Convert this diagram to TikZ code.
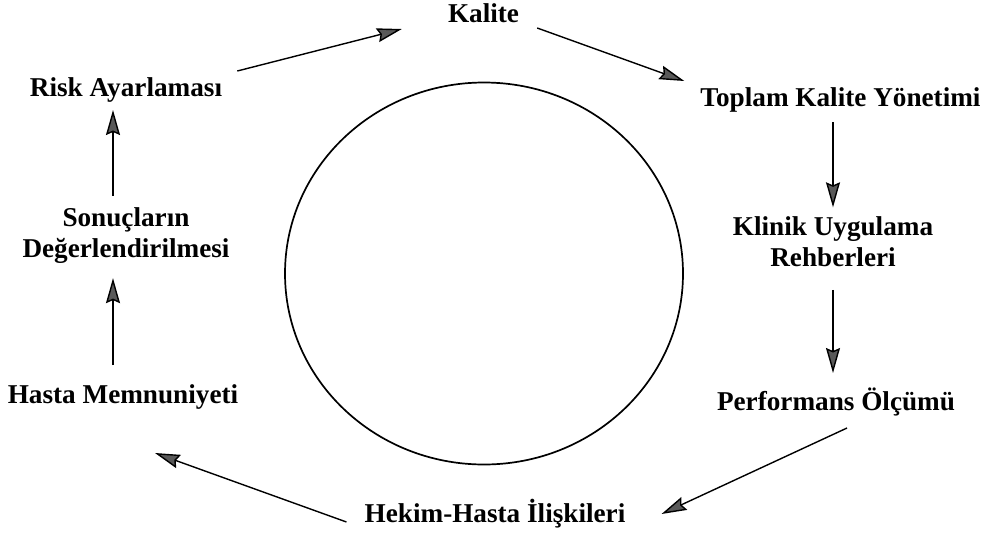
\documentclass[tikz,border=0pt]{standalone}
\usepackage{fontspec}
\setmainfont{Liberation Serif}
\usetikzlibrary{arrows.meta,calc}
\begin{document}
\begin{tikzpicture}[x=1pt,y=-1pt,
  lbl/.style={inner sep=0pt,font=\fontsize{27.2}{31}\selectfont\bfseries,align=center},
  arr/.style={line width=1.4pt,-{Stealth[length=25pt,width=14pt,inset=3pt,fill=black!65]}},
  ring/.style={line width=1.7pt}]
\useasboundingbox (0,0) rectangle (992,533);
\fill[white] (0,0) rectangle (992,533);
% nodes
\node[lbl,anchor=base] (kalite) at (483.5,22) {Kalite};
\node[lbl,anchor=base] (risk) at (126,96) {Risk Ayarlaması};
\node[lbl,anchor=base] (tky) at (840.5,106) {Toplam Kalite Yönetimi};
\node[lbl] (klinik) at (833,241.6) {Klinik Uygulama\\Rehberleri};
\node[lbl,anchor=base] (perf) at (836,410) {Performans Ölçümü};
\node[lbl,anchor=base] (hekim) at (495,522) {Hekim-Hasta İlişkileri};
\node[lbl,anchor=base] (hasta) at (123,403) {Hasta Memnuniyeti};
\node[lbl] (sonuc) at (126,235.6) {Sonuçların\\Değerlendirilmesi};
% circle
\draw[ring] (484,273.5) ellipse [x radius=199, y radius=191];
% connectors
\draw[arr] ($(risk.base east)+(15,-25)$) -- ($(kalite.base west)+(-46,7)$);
\draw[arr] ($(kalite.base east)+(18,6)$) -- ($(tky.base west)+(-16,-25)$);
\draw[arr] ($(tky.base -| klinik.north)+(0,16)$) -- ($(klinik.north)+(0,-9)$);
\draw[arr] ($(klinik.south)+(0,23)$) -- ($(perf.base -| klinik.south)+(0,-37)$);
\draw[arr] ($(perf.base)+(11,18)$) -- ($(hekim.base east)+(36,-8)$);
\draw[arr] ($(hekim.base west)+(-18,0)$) -- ($(hasta.base)+(32,50)$);
\draw[arr] ($(hasta.base)+(-10,-38)$) -- ($(sonuc.south)+(-13,14.4)$);
\draw[arr] ($(sonuc.north)+(-13,-11.6)$) -- ($(risk.base)+(-13,14)$);
\end{tikzpicture}
\end{document}
